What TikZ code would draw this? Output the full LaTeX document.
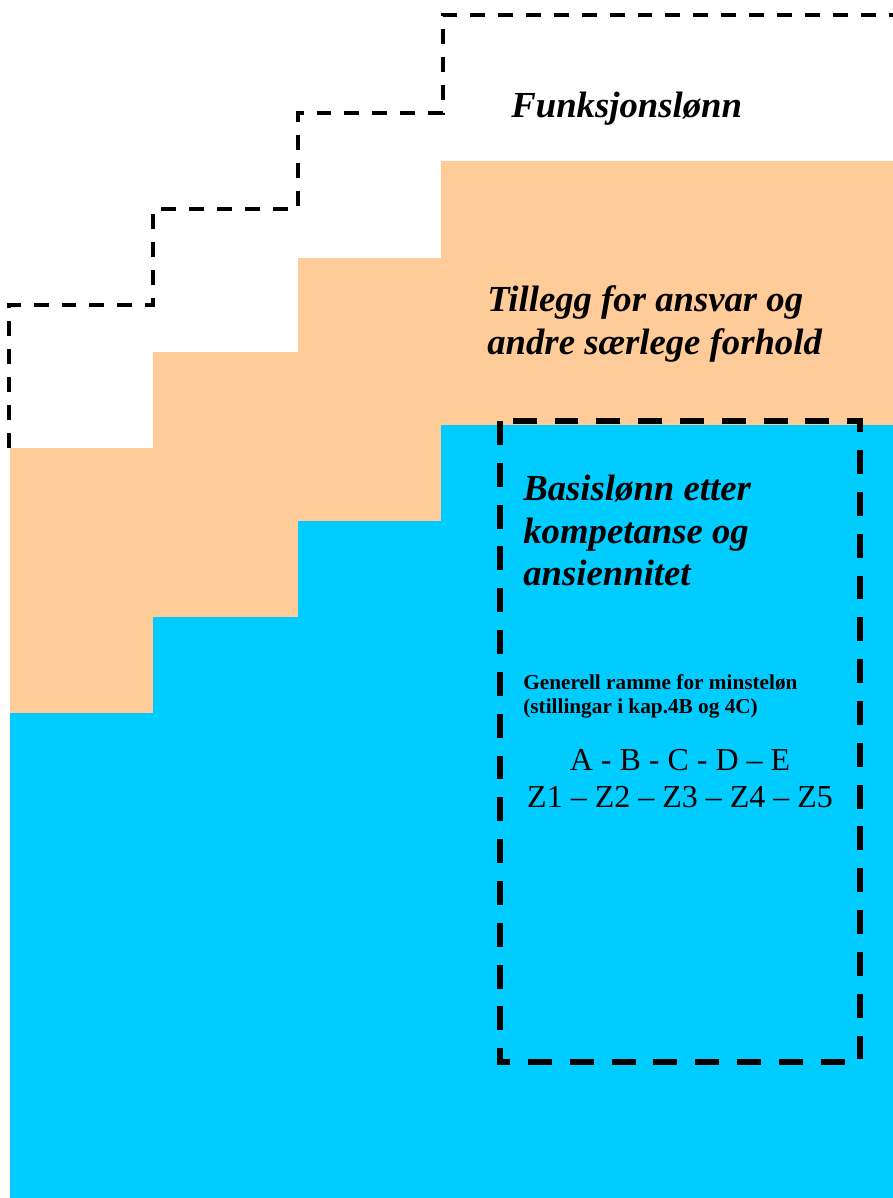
\documentclass[tikz,border=0pt]{standalone}
\usepackage{fontspec}
\setmainfont{Liberation Serif}
\usepackage{xcolor}
\definecolor{tilleggcolor}{HTML}{FFCC99}
\definecolor{basiscolor}{HTML}{00CCFF}
\usetikzlibrary{positioning}

\begin{document}
\begin{tikzpicture}
        [
          x=0.02cm, y=-0.02cm,
          every node/.style={inner sep=0pt, text=black},
          stairline/.style={line width=1.9pt, dash pattern=on 8.5pt off 7.4pt},
          framebox/.style={line width=3.4pt, dash pattern=on 13.6pt off 10.2pt},
          headtext/.style={font=\fontsize{20.9}{24.8}\selectfont\bfseries\itshape, align=left}
        ]
        \useasboundingbox (0,0) rectangle (893,1198);

        \fill[tilleggcolor] (10,1198) -- (10,448) -- (153,448) -- (153,352) -- (298,352)
                          -- (298,258) -- (441,258) -- (441,161) -- (893,161) -- (893,1198) -- cycle;
        \fill[basiscolor] (10,1198) -- (10,713) -- (153,713) -- (153,617) -- (298,617)
                          -- (298,521) -- (441,521) -- (441,425) -- (893,425) -- (893,1198) -- cycle;

        \draw[stairline] (9,448) -- (9,305) -- (153,305) -- (153,209) -- (298,209)
                          -- (298,113) -- (443,113) -- (443,15) -- (893,15);

        \coordinate (r1) at (500,421);
        \coordinate (r2) at (860,1062);
        \draw[framebox] (r1) rectangle (r2);

        \node[headtext, anchor=base west] (funk) at (511,117) {Funksjonslønn};
        \node[headtext, anchor=north west] (till) at (487,285)
          {Tillegg for ansvar og\\andre særlege forhold};
        \node[headtext, anchor=north west, font=\fontsize{20.9}{24}\selectfont\bfseries\itshape] (basis) at (523,475)
          {Basislønn etter\\kompetanse og\\ansiennitet};
        \node[anchor=north west, align=left, font=\fontsize{12.1}{13.6}\selectfont\bfseries] (ramme) at (523,674)
          {Generell ramme for minsteløn\\(stillingar i kap.4B og 4C)};
        \node[anchor=north, align=center, font=\fontsize{18.2}{21}\selectfont] (stige) at (680,749)
          {A - B - C - D -- E\\Z1 -- Z2 -- Z3 -- Z4 -- Z5};
\end{tikzpicture}
\end{document}
